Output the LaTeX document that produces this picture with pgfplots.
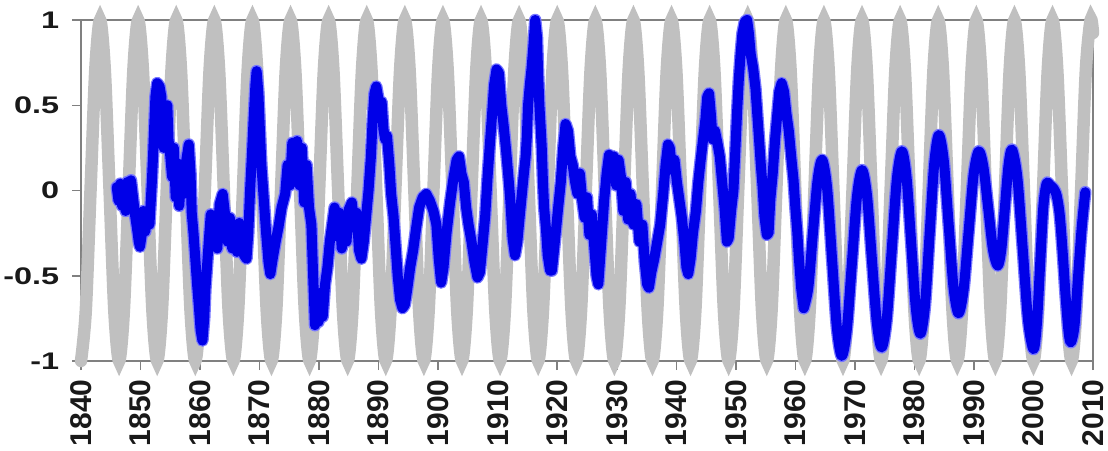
\documentclass[border=0pt]{standalone}
\usepackage{fontspec}
\setmainfont{Liberation Sans}
\usepackage{pgfplots}
\usepackage{pgfplotstable}
\pgfplotsset{compat=1.18}

\definecolor{beat}{RGB}{192,192,192}
\definecolor{pole}{RGB}{0,0,232}
\definecolor{polehalo}{RGB}{120,120,255}
\definecolor{frame}{RGB}{128,128,128}
\definecolor{labeltext}{RGB}{25,25,25}

% 6.4-year beat, sampled every eighth of a period
\pgfplotstableread{
t v
1840.0 -1
1840.8 -0.707
1841.6 0
1842.4 0.707
1843.2 1
1844.0 0.707
1844.8 0
1845.6 -0.707
1846.4 -1
1847.2 -0.707
1848.0 0
1848.8 0.707
1849.6 1
1850.4 0.707
1851.2 0
1852.0 -0.707
1852.8 -1
1853.6 -0.707
1854.4 0
1855.2 0.707
1856.0 1
1856.8 0.707
1857.6 0
1858.4 -0.707
1859.2 -1
1860.0 -0.707
1860.8 0
1861.6 0.707
1862.4 1
1863.2 0.707
1864.0 0
1864.8 -0.707
1865.6 -1
1866.4 -0.707
1867.2 0
1868.0 0.707
1868.8 1
1869.6 0.707
1870.4 0
1871.2 -0.707
1872.0 -1
1872.8 -0.707
1873.6 0
1874.4 0.707
1875.2 1
1876.0 0.707
1876.8 0
1877.6 -0.707
1878.4 -1
1879.2 -0.707
1880.0 0
1880.8 0.707
1881.6 1
1882.4 0.707
1883.2 0
1884.0 -0.707
1884.8 -1
1885.6 -0.707
1886.4 0
1887.2 0.707
1888.0 1
1888.8 0.707
1889.6 0
1890.4 -0.707
1891.2 -1
1892.0 -0.707
1892.8 0
1893.6 0.707
1894.4 1
1895.2 0.707
1896.0 0
1896.8 -0.707
1897.6 -1
1898.4 -0.707
1899.2 0
1900.0 0.707
1900.8 1
1901.6 0.707
1902.4 0
1903.2 -0.707
1904.0 -1
1904.8 -0.707
1905.6 0
1906.4 0.707
1907.2 1
1908.0 0.707
1908.8 0
1909.6 -0.707
1910.4 -1
1911.2 -0.707
1912.0 0
1912.8 0.707
1913.6 1
1914.4 0.707
1915.2 0
1916.0 -0.707
1916.8 -1
1917.6 -0.707
1918.4 0
1919.2 0.707
1920.0 1
1920.8 0.707
1921.6 0
1922.4 -0.707
1923.2 -1
1924.0 -0.707
1924.8 0
1925.6 0.707
1926.4 1
1927.2 0.707
1928.0 0
1928.8 -0.707
1929.6 -1
1930.4 -0.707
1931.2 0
1932.0 0.707
1932.8 1
1933.6 0.707
1934.4 0
1935.2 -0.707
1936.0 -1
1936.8 -0.707
1937.6 0
1938.4 0.707
1939.2 1
1940.0 0.707
1940.8 0
1941.6 -0.707
1942.4 -1
1943.2 -0.707
1944.0 0
1944.8 0.707
1945.6 1
1946.4 0.707
1947.2 0
1948.0 -0.707
1948.8 -1
1949.6 -0.707
1950.4 0
1951.2 0.707
1952.0 1
1952.8 0.707
1953.6 0
1954.4 -0.707
1955.2 -1
1956.0 -0.707
1956.8 0
1957.6 0.707
1958.4 1
1959.2 0.707
1960.0 0
1960.8 -0.707
1961.6 -1
1962.4 -0.707
1963.2 0
1964.0 0.707
1964.8 1
1965.6 0.707
1966.4 0
1967.2 -0.707
1968.0 -1
1968.8 -0.707
1969.6 0
1970.4 0.707
1971.2 1
1972.0 0.707
1972.8 0
1973.6 -0.707
1974.4 -1
1975.2 -0.707
1976.0 0
1976.8 0.707
1977.6 1
1978.4 0.707
1979.2 0
1980.0 -0.707
1980.8 -1
1981.6 -0.707
1982.4 0
1983.2 0.707
1984.0 1
1984.8 0.707
1985.6 0
1986.4 -0.707
1987.2 -1
1988.0 -0.707
1988.8 0
1989.6 0.707
1990.4 1
1991.2 0.707
1992.0 0
1992.8 -0.707
1993.6 -1
1994.4 -0.707
1995.2 0
1996.0 0.707
1996.8 1
1997.6 0.707
1998.4 0
1999.2 -0.707
2000.0 -1
2000.8 -0.707
2001.6 0
2002.4 0.707
2003.2 1
2004.0 0.707
2004.8 0
2005.6 -0.707
2006.4 -1
2007.2 -0.707
2008.0 0
2008.8 0.707
2009.6 1
2010.0 0.924
}\beattable

% observed series, 1846--1961
\pgfplotstableread{
t v
1846.0 0.02
1846.3 -0.06
1846.6 0.04
1846.9 -0.09
1847.2 0.03
1847.5 -0.12
1847.8 0.05
1848.1 -0.10
1848.4 0.06
1848.8 -0.06
1849.1 -0.15
1849.4 -0.22
1849.7 -0.30
1849.9 -0.33
1850.2 -0.26
1850.5 -0.12
1850.8 -0.24
1851.1 -0.14
1851.5 -0.20
1851.9 0.05
1852.1 0.20
1852.3 0.38
1852.5 0.55
1852.8 0.63
1853.2 0.61
1853.5 0.55
1853.7 0.35
1853.9 0.25
1854.2 0.45
1854.5 0.50
1854.7 0.30
1855.0 0.20
1855.3 0.08
1855.6 0.25
1855.9 -0.04
1856.2 0.16
1856.5 -0.09
1856.9 0.12
1857.3 -0.02
1857.7 0.18
1858.1 0.27
1858.4 0.10
1858.6 -0.13
1858.9 -0.25
1859.2 -0.40
1859.5 -0.55
1859.8 -0.68
1860.1 -0.82
1860.4 -0.88
1860.7 -0.75
1860.9 -0.58
1861.2 -0.43
1861.5 -0.28
1861.8 -0.14
1862.1 -0.32
1862.5 -0.18
1862.9 -0.34
1863.3 -0.08
1863.8 -0.02
1864.2 -0.14
1864.6 -0.30
1865.0 -0.16
1865.4 -0.34
1865.8 -0.20
1866.2 -0.36
1866.6 -0.19
1867.0 -0.32
1867.4 -0.38
1867.8 -0.40
1868.1 -0.25
1868.4 0.00
1868.7 0.20
1869.0 0.42
1869.3 0.62
1869.5 0.70
1869.8 0.57
1870.0 0.40
1870.3 0.15
1870.7 -0.05
1871.1 -0.25
1871.5 -0.42
1871.8 -0.49
1872.2 -0.40
1872.7 -0.30
1873.2 -0.21
1873.7 -0.10
1874.3 -0.02
1874.7 0.15
1875.1 0.03
1875.5 0.28
1875.9 0.08
1876.3 0.29
1876.7 0.03
1877.1 0.25
1877.5 -0.07
1877.9 0.15
1878.3 -0.10
1878.7 -0.20
1878.9 -0.40
1879.1 -0.60
1879.3 -0.79
1879.6 -0.68
1879.9 -0.77
1880.2 -0.60
1880.6 -0.74
1881.0 -0.55
1881.4 -0.45
1881.8 -0.30
1882.2 -0.20
1882.6 -0.10
1883.0 -0.27
1883.4 -0.13
1883.8 -0.34
1884.2 -0.16
1884.6 -0.30
1885.0 -0.11
1885.5 -0.07
1885.9 -0.22
1886.3 -0.13
1886.7 -0.35
1887.1 -0.40
1887.5 -0.30
1887.9 -0.15
1888.3 0.00
1888.7 0.20
1889.0 0.42
1889.3 0.57
1889.6 0.61
1889.9 0.55
1890.2 0.46
1890.5 0.52
1890.8 0.36
1891.1 0.30
1891.4 0.32
1891.8 0.15
1892.1 -0.02
1892.5 -0.15
1892.8 -0.30
1893.2 -0.50
1893.6 -0.64
1894.0 -0.69
1894.4 -0.67
1894.8 -0.58
1895.3 -0.45
1895.8 -0.35
1896.3 -0.22
1896.8 -0.10
1897.4 -0.04
1898.0 -0.02
1898.6 -0.06
1899.2 -0.12
1899.7 -0.20
1900.1 -0.40
1900.5 -0.54
1900.9 -0.45
1901.4 -0.25
1902.0 -0.07
1902.6 0.08
1903.1 0.18
1903.5 0.20
1903.9 0.10
1904.3 0.05
1904.7 -0.10
1905.1 -0.20
1905.6 -0.30
1906.1 -0.42
1906.6 -0.51
1907.0 -0.48
1907.5 -0.30
1907.9 -0.15
1908.3 0.08
1908.7 0.28
1909.0 0.42
1909.4 0.62
1909.8 0.71
1910.2 0.69
1910.6 0.50
1911.0 0.38
1911.4 0.24
1911.8 0.08
1912.1 -0.05
1912.5 -0.28
1912.9 -0.38
1913.3 -0.30
1913.7 -0.15
1914.0 -0.04
1914.4 0.10
1914.7 0.20
1914.9 0.32
1915.1 0.50
1915.4 0.62
1915.7 0.72
1916.0 0.85
1916.3 1.00
1916.6 0.90
1916.8 0.68
1917.0 0.50
1917.2 0.38
1917.4 0.25
1917.6 0.05
1917.8 -0.10
1918.1 -0.22
1918.4 -0.38
1918.8 -0.47
1919.1 -0.47
1919.6 -0.30
1920.1 -0.12
1920.6 0.05
1921.0 0.25
1921.4 0.39
1921.8 0.35
1922.2 0.20
1922.6 0.15
1923.0 0.05
1923.4 -0.02
1923.8 0.10
1924.2 -0.06
1924.6 -0.16
1925.0 -0.04
1925.4 -0.26
1925.8 -0.14
1926.2 -0.32
1926.6 -0.50
1926.9 -0.55
1927.2 -0.40
1927.5 -0.25
1927.9 -0.05
1928.3 0.10
1928.7 0.21
1929.1 0.13
1929.5 0.20
1929.9 0.03
1930.3 0.18
1930.7 0.08
1931.1 -0.12
1931.5 0.05
1931.9 -0.17
1932.3 -0.02
1932.8 -0.20
1933.3 -0.08
1933.8 -0.30
1934.3 -0.20
1934.7 -0.42
1935.1 -0.55
1935.4 -0.57
1935.8 -0.48
1936.3 -0.40
1936.8 -0.30
1937.3 -0.20
1937.8 -0.02
1938.2 0.15
1938.6 0.27
1938.9 0.25
1939.3 0.12
1939.7 0.18
1940.1 0.05
1940.5 -0.05
1940.9 -0.15
1941.3 -0.28
1941.7 -0.45
1942.0 -0.49
1942.4 -0.40
1942.8 -0.25
1943.3 -0.12
1943.7 0.05
1944.1 0.18
1944.5 0.30
1944.9 0.42
1945.2 0.55
1945.5 0.57
1945.8 0.45
1946.1 0.30
1946.5 0.35
1946.9 0.28
1947.3 0.20
1947.7 0.05
1948.1 -0.10
1948.5 -0.30
1948.8 -0.28
1949.2 -0.12
1949.6 0.00
1949.9 0.22
1950.2 0.45
1950.5 0.65
1950.8 0.80
1951.1 0.92
1951.5 0.99
1951.9 1.00
1952.2 0.92
1952.5 0.80
1952.9 0.72
1953.3 0.60
1953.6 0.45
1953.9 0.30
1954.2 0.15
1954.5 0.02
1954.8 -0.15
1955.2 -0.26
1955.5 -0.25
1955.8 -0.05
1956.2 0.10
1956.6 0.30
1956.9 0.42
1957.3 0.58
1957.7 0.63
1958.1 0.58
1958.5 0.45
1958.9 0.35
1959.3 0.20
1959.7 0.06
1960.0 -0.10
1960.3 -0.23
1960.6 -0.40
1961.0 -0.58
1961.4 -0.69
}\earlytable

% observed series, 1961--2009
\pgfplotstableread{
t v
1961.4 -0.69
1962.18 -0.568
1962.95 -0.25
1963.73 0.058
1964.5 0.18
1965.33 0.016
1966.15 -0.395
1966.98 -0.806
1967.8 -0.97
1968.65 -0.814
1969.5 -0.425
1970.35 -0.036
1971.2 0.12
1972.03 -0.028
1972.85 -0.40
1973.68 -0.772
1974.5 -0.92
1975.35 -0.756
1976.2 -0.345
1977.05 0.066
1977.9 0.23
1978.68 0.077
1979.45 -0.305
1980.23 -0.687
1981.0 -0.84
1981.78 -0.674
1982.55 -0.258
1983.33 0.158
1984.1 0.325
1984.93 0.176
1985.75 -0.198
1986.58 -0.571
1987.4 -0.72
1988.25 -0.585
1989.1 -0.245
1989.95 0.095
1990.8 0.23
1991.6 0.136
1992.4 -0.105
1993.2 -0.346
1994.0 -0.44
1994.6 -0.345
1995.2 -0.10
1995.8 0.145
1996.4 0.24
1997.3 0.073
1998.2 -0.345
1999.1 -0.763
2000.0 -0.93
2000.55 -0.792
2001.1 -0.445
2001.65 -0.098
2002.2 0.04
2002.8 0.03
2003.4 0.01
2003.9 -0.03
2004.4 -0.14
2004.9 -0.36
2005.4 -0.62
2005.9 -0.83
2006.3 -0.89
2006.9 -0.79
2007.5 -0.50
2008.1 -0.22
2008.7 -0.01
}\latetable

\begin{document}
\begin{tikzpicture}
\path[use as bounding box] (0,0) rectangle (1108pt,450pt);
\begin{axis}[
  at={(81pt,89pt)}, anchor=south west,
  scale only axis, width=1012pt, height=341pt,
  xmin=1840, xmax=2010, ymin=-1, ymax=1,
  clip=false,
  axis line style={draw=frame, line width=1.5pt},
  tick style={draw=frame, line width=1.5pt},
  tick align=outside, major tick length=9pt,
  xtick pos=bottom, ytick pos=left,
  xtick={1840,1850,1860,1870,1880,1890,1900,1910,1920,1930,1940,1950,1960,1970,1980,1990,2000,2010},
  xticklabels={1840,1850,1860,1870,1880,1890,1900,1910,1920,1930,1940,1950,1960,1970,1980,1990,2000,2010},
  ytick={-1,-0.5,0,0.5,1},
  yticklabels={-1,-0.5,0,0.5,1},
  xticklabel shift=6pt, yticklabel shift=8pt,
  xticklabel style={font=\bfseries\fontsize{30}{30}\selectfont, text=labeltext, rotate=90, anchor=east},
  yticklabel style={font=\bfseries\fontsize{24}{24}\selectfont, text=labeltext, xscale=1.35, anchor=east},
]
\addplot[draw=beat, line width=12.5pt, smooth, line cap=round] table[x=t, y=v] {\beattable};
\addplot[draw=polehalo, line width=12.5pt, line join=round, line cap=round] table[x=t, y=v] {\earlytable};
\addplot[draw=polehalo, line width=12.5pt, smooth, line join=round, line cap=round] table[x=t, y=v] {\latetable};
\addplot[draw=pole, line width=10pt, line join=round, line cap=round] table[x=t, y=v] {\earlytable};
\addplot[draw=pole, line width=10pt, smooth, line join=round, line cap=round] table[x=t, y=v] {\latetable};
\end{axis}
\end{tikzpicture}
\end{document}
